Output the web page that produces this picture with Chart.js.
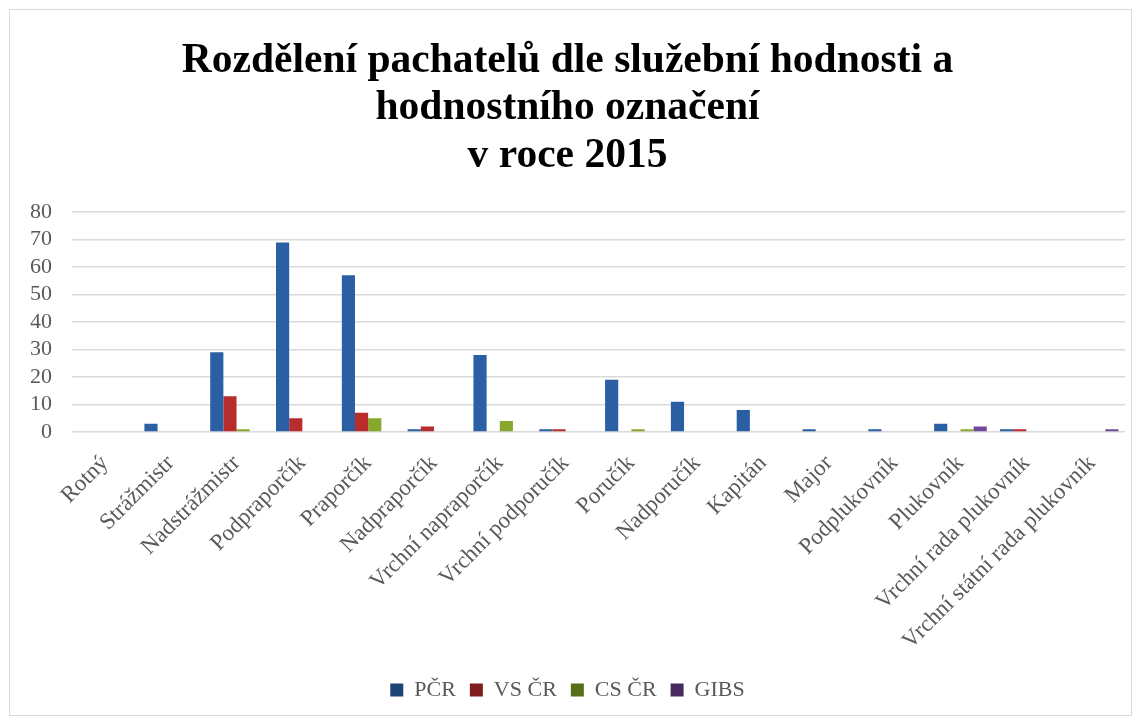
<!DOCTYPE html>
<html>
<head>
<meta charset="utf-8">
<script src="https://cdn.jsdelivr.net/npm/chart.js@4.4.0/dist/chart.umd.min.js"></script>
<style>
    html, body { margin: 0; padding: 0; background: #fff; }
    #box {
        position: absolute;
        left: 9px; top: 9px;
        width: 1123px; height: 707px;
        border: 1px solid #d9d9d9;
        box-sizing: border-box;
    }
</style>
</head>
<body>
<div id="box"><canvas id="chart"></canvas></div>
<script>
const categories = ['Rotný', 'Strážmistr', 'Nadstrážmistr', 'Podpraporčík', 'Praporčík', 'Nadpraporčík',
    'Vrchní napraporčík', 'Vrchní podporučík', 'Poručík', 'Nadporučík', 'Kapitán', 'Major',
    'Podplukovník', 'Plukovník', 'Vrchní rada plukovník', 'Vrchní státní rada plukovník'];
const pcr   = [0, 3, 29, 69, 57, 1, 28, 1, 19, 11, 8, 1, 1, 3, 1, 0];
const vscr  = [0, 0, 13, 5, 7, 2, 0, 1, 0, 0, 0, 0, 0, 0, 1, 0];
const cscr  = [0, 0, 1, 0, 5, 0, 4, 0, 1, 0, 0, 0, 0, 1, 0, 0];
const gibs  = [0, 0, 0, 0, 0, 0, 0, 0, 0, 0, 0, 0, 0, 2, 0, 1];
const yTicks = [0, 10, 20, 30, 40, 50, 60, 70, 80];

// horizontal shading so the bars look a bit rounded, like the original
function shade(dark, mid, light) {
    return function (context) {
        const el = context.element;
        if (context.type !== 'data' || !el) return mid;
        const half = (el.width || 12) / 2;
        if (!Number.isFinite(el.x) || !Number.isFinite(half)) return mid;
        const g = context.chart.ctx.createLinearGradient(el.x - half, 0, el.x + half, 0);
        g.addColorStop(0, dark);
        g.addColorStop(0.3, light);
        g.addColorStop(0.7, mid);
        g.addColorStop(1, dark);
        return g;
    };
}

const serif = "'Liberation Serif', 'Times New Roman', serif";

new Chart(document.getElementById('chart').getContext('2d'), {
    type: 'bar',
    data: {
        labels: categories,
        datasets: [
            { label: 'PČR', data: pcr, backgroundColor: shade('#1c4477', '#2b5fa3', '#4a82c8') },
            { label: 'VS ČR', data: vscr, backgroundColor: shade('#7e1d1b', '#b82d2b', '#d9504c') },
            { label: 'CS ČR', data: cscr, backgroundColor: shade('#566f18', '#86a82c', '#a9c94e') },
            { label: 'GIBS', data: gibs, backgroundColor: shade('#46295f', '#72499a', '#9570bd') }
        ]
    },
    options: {
        responsive: true,
        maintainAspectRatio: false,
        animation: false,
        datasets: {
            bar: { categoryPercentage: 0.8, barPercentage: 1.0, borderWidth: 0 }
        },
        layout: { padding: { left: 0, right: 6, top: 27, bottom: 4 } },
        plugins: {
            title: {
                display: true,
                text: ['Rozdělení pachatelů dle služební hodnosti a', 'hodnostního označení', 'v roce 2015'],
                color: '#000',
                font: { family: serif, size: 41.5, weight: 'bold', lineHeight: 1.15 },
                padding: { top: 0, bottom: 32 }
            },
            legend: {
                position: 'bottom',
                labels: {
                    color: '#595959',
                    font: { family: serif, size: 22 },
                    boxWidth: 13,
                    boxHeight: 13,
                    padding: 14
                }
            },
            tooltip: { enabled: false }
        },
        scales: {
            x: {
                grid: { display: false },
                border: { display: false },
                ticks: {
                    color: '#595959',
                    font: { family: serif, size: 23 },
                    maxRotation: 45,
                    minRotation: 45,
                    padding: 10,
                    autoSkip: false
                }
            },
            y: {
                min: 0,
                max: 80,
                afterBuildTicks: function (axis) {
                    axis.ticks = yTicks.map(v => ({ value: v }));
                },
                grid: { color: '#d9d9d9', lineWidth: 1.5, drawTicks: false },
                border: { display: false },
                ticks: {
                    color: '#595959',
                    font: { family: serif, size: 22 },
                    padding: 20,
                    autoSkip: false
                }
            }
        }
    }
});
</script>
</body>
</html>
